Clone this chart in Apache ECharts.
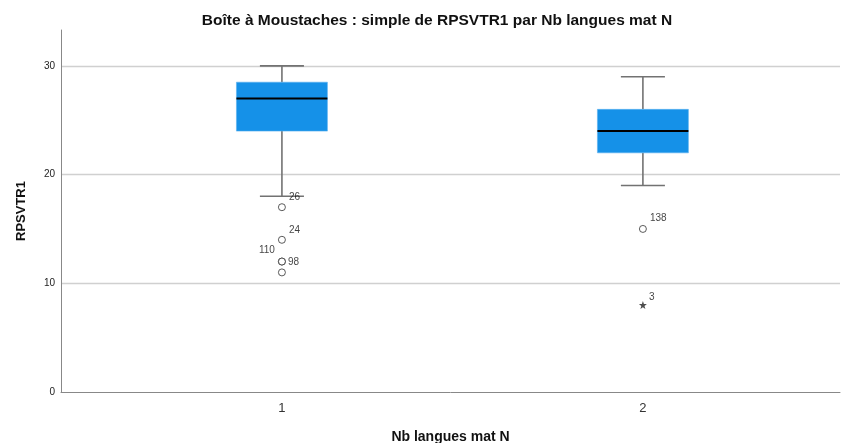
<!DOCTYPE html>
<html><head><meta charset="utf-8">
<script src="https://cdn.jsdelivr.net/npm/echarts@6/dist/echarts.min.js"></script>
<style>html,body{margin:0;padding:0;background:#fff}#c{width:853px;height:443px}</style>
</head><body><div id="c"></div>
<script>
var categories = [1, 2];
var categoryLabels = ['1', '2'];
// [min whisker, Q1, median, Q3, max whisker]
var boxStats = [
  [18, 24, 27, 28.5, 30],
  [19, 22, 24, 26, 29]
];
// outliers: [category, value, label]
var outliers1 = [[1, 17, '26'], [1, 14, '24'], [1, 12, '98'], [1, 12, '110'], [1, 11, '']];
var outliers2 = [[2, 15, '138']];
var extremes = [[2, 8, '3']];
var yTicks = [0, 10, 20, 30];
var gridValues = [10, 20, 30];

var boxData = categories.map(function (c, i) { return [c].concat(boxStats[i]); });
var FONT = 'Liberation Sans';

var chart = echarts.init(document.getElementById('c'));
chart.setOption({
  animation: false,
  backgroundColor: '#fff',
  title: {
    text: 'Boîte à Moustaches : simple de RPSVTR1 par Nb langues mat N',
    left: 432, top: 8, textAlign: 'center',
    textStyle: { fontFamily: FONT, fontSize: 15.5, fontWeight: 'bold', color: '#111' }
  },
  grid: { left: 61, right: 13, top: 30, bottom: 51, containLabel: false, outerBoundsMode: 'none' },
  xAxis: {
    type: 'value', min: 0.388, max: 2.546,
    name: 'Nb langues mat N', nameLocation: 'middle', nameGap: 38,
    nameTextStyle: { fontFamily: FONT, fontSize: 14, fontWeight: 'bold', color: '#111' },
    axisLine: { lineStyle: { color: '#888', width: 1 } },
    axisTick: { show: false },
    splitLine: { show: false },
    axisLabel: {
      customValues: categories, margin: 10,
      formatter: function (v) { var i = categories.indexOf(v); return i >= 0 ? categoryLabels[i] : ''; },
      fontFamily: FONT, fontSize: 13, color: '#333'
    }
  },
  yAxis: {
    type: 'value', min: 0, max: 33.3,
    name: 'RPSVTR1', nameLocation: 'middle', nameGap: 33, nameRotate: 90,
    nameTextStyle: { fontFamily: FONT, fontSize: 13, fontWeight: 'bold', color: '#111' },
    axisLine: { show: true, lineStyle: { color: '#888', width: 1 } },
    axisTick: { show: false },
    splitLine: { show: false },
    axisLabel: { customValues: yTicks, margin: 6, fontFamily: FONT, fontSize: 10, color: '#222' }
  },
  series: [
    {
      type: 'line', data: [], silent: true, z: 0,
      markLine: {
        silent: true, symbol: 'none', label: { show: false }, z: 0,
        lineStyle: { color: '#d0d0d0', type: 'solid', width: 1.3 },
        data: gridValues.map(function (v) { return { yAxis: v }; })
      }
    },
    {
      type: 'custom', z: 5,
      data: boxData,
      encode: { x: 0, y: [1, 2, 3, 4, 5] },
      renderItem: function (params, api) {
        var x = api.value(0);
        var pMin = api.coord([x, api.value(1)]);
        var pQ1 = api.coord([x, api.value(2)]);
        var pMed = api.coord([x, api.value(3)]);
        var pQ3 = api.coord([x, api.value(4)]);
        var pMax = api.coord([x, api.value(5)]);
        var half = api.size([0.252, 0])[0] / 2;
        var capHalf = api.size([0.122, 0])[0] / 2;
        var cx = pMed[0];
        var ws = { stroke: '#727272', lineWidth: 1.6 };
        return {
          type: 'group',
          children: [
            { type: 'line', shape: { x1: cx, y1: pMax[1], x2: cx, y2: pQ3[1] }, style: ws },
            { type: 'line', shape: { x1: cx, y1: pQ1[1], x2: cx, y2: pMin[1] }, style: ws },
            { type: 'line', shape: { x1: cx - capHalf, y1: pMax[1], x2: cx + capHalf, y2: pMax[1] }, style: ws },
            { type: 'line', shape: { x1: cx - capHalf, y1: pMin[1], x2: cx + capHalf, y2: pMin[1] }, style: ws },
            { type: 'rect', shape: { x: cx - half, y: pQ3[1], width: half * 2, height: pQ1[1] - pQ3[1] },
              style: { fill: '#1591e8', stroke: '#5ab0ee', lineWidth: 0.6 } },
            { type: 'line', shape: { x1: cx - half, y1: pMed[1], x2: cx + half, y2: pMed[1] },
              style: { stroke: '#000', lineWidth: 2 } }
          ]
        };
      }
    },
    {
      type: 'scatter', z: 6,
      symbol: 'circle', symbolSize: 7,
      itemStyle: { color: '#fff', borderColor: '#333', borderWidth: 1 },
      data: outliers1.concat(outliers2).map(function (d) {
        var lbl = { show: d[2] !== '', formatter: d[2], position: 'right', offset: [-2, -10],
          fontFamily: FONT, fontSize: 10, color: '#111' };
        if (d[2] === '110') { lbl.position = 'left'; lbl.offset = [2, -11]; }
        if (d[2] === '98') { lbl.offset = [-3, 1]; }
        if (d[2] === '138') { lbl.offset = [-2, -11]; }
        return { value: [d[0], d[1]], label: lbl };
      })
    },
    {
      type: 'scatter', z: 6,
      symbol: 'path://M0,-5 L1.2,-1.6 L4.8,-1.6 L1.9,0.6 L3,4 L0,2 L-3,4 L-1.9,0.6 L-4.8,-1.6 L-1.2,-1.6 Z',
      symbolSize: 8,
      itemStyle: { color: '#222' },
      data: extremes.map(function (d) {
        return { value: [d[0], d[1]], label: { show: true, formatter: d[2], position: 'right', offset: [-3, -8],
          fontFamily: FONT, fontSize: 10, color: '#111' } };
      })
    }
  ]
});
</script></body></html>
